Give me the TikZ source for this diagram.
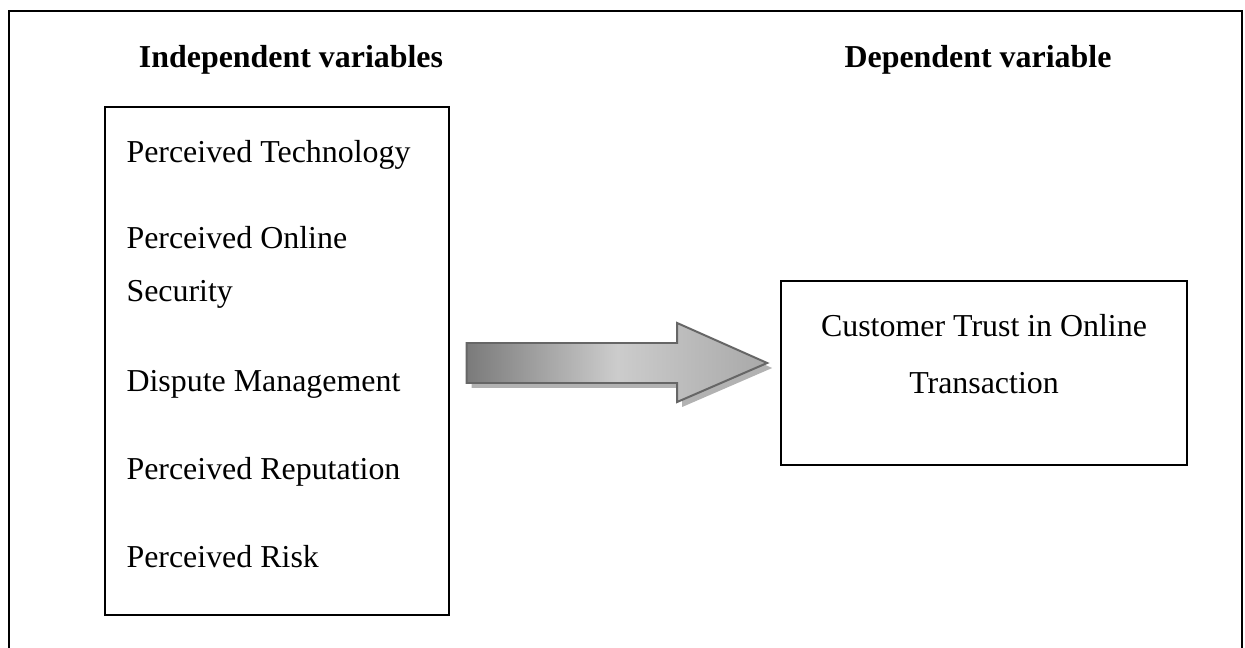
\documentclass[tikz,border=0pt]{standalone}
\usepackage{fontspec}
\setmainfont{Liberation Serif}
\usetikzlibrary{calc}

\begin{document}
\begin{tikzpicture}[x=0.376pt, y=-0.376pt,
  frame/.style={draw=black, line width=0.8pt},
  varbox/.style={draw=black, line width=0.6pt, inner sep=0pt},
  item/.style={inner sep=0pt, anchor=base west, font=\fontsize{12}{14}\selectfont},
  heading/.style={inner sep=0pt, anchor=base, font=\fontsize{12}{14}\selectfont\bfseries},
  arrowbody/.style={draw=black!60, line width=0.75pt, line join=miter,
    left color=black!52, right color=black!34, middle color=black!20,
    preaction={draw=none, fill=black!30, transform canvas={shift={(5,5)}}}}]
\useasboundingbox (0,0) rectangle (1245,648);
\clip (0,0) rectangle (1245,648);
\draw[frame] (9,11) rectangle (1242,670);

% headings
\node[heading] (indephead) at (291,68) {Independent variables};
\node[heading] (dephead) at (978,68) {Dependent variable};

% boxes
\node[varbox, minimum width=129.3pt, minimum height=191pt] (indep) at (277,361) {};
\node[varbox, minimum width=152.7pt, minimum height=69.2pt] (dep) at (984,373) {};

% independent variables
\foreach \n/\y/\t in {tech/163/Perceived Technology, online/249/Perceived Online,
  secur/302/Security, dispute/392/Dispute Management,
  reput/480/Perceived Reputation, risk/567/Perceived Risk}{
\node[item] (\n) at (126,\y) {\t};
}

% dependent variable
\node[item, anchor=base] (trust) at (984,337) {Customer Trust in Online};
\node[item, anchor=base] (trans) at (984,393) {Transaction};

% block arrow
\coordinate (tail) at ($(indep.east)+(17,2)$);
\coordinate (tip) at ($(dep.west)+(-13,-10)$);
\path[arrowbody] ($(tail)+(0,-20)$) -- ($(tip)+(-90,-20)$) -- ($(tip)+(-90,-40)$) -- (tip)
  -- ($(tip)+(-90,39)$) -- ($(tip)+(-90,20)$) -- ($(tail)+(0,20)$) -- cycle;
\end{tikzpicture}
\end{document}
